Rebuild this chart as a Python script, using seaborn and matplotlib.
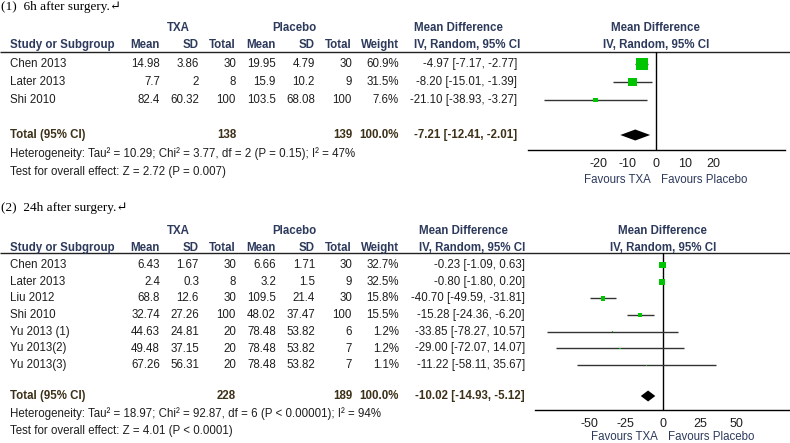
import numpy as np
import pandas as pd
import seaborn as sns
import matplotlib.pyplot as plt

# panel 1: 6h after surgery
studies1 = ["Chen 2013", "Later 2013", "Shi 2010"]
txa_mean1 = [14.98, 7.7, 82.4]
txa_sd1 = [3.86, 2, 60.32]
txa_n1 = [30, 8, 100]
pla_mean1 = [19.95, 15.9, 103.5]
pla_sd1 = [4.79, 10.2, 68.08]
pla_n1 = [30, 9, 100]
weight1 = [60.9, 31.5, 7.6]
md1 = [-4.97, -8.20, -21.10]
lo1 = [-7.17, -15.01, -38.93]
hi1 = [-2.77, -1.39, -3.27]
total1 = (-7.21, -12.41, -2.01)
ntot1 = (138, 139)
het1 = "Heterogeneity: Tau\u00b2 = 10.29; Chi\u00b2 = 3.77, df = 2 (P = 0.15); I\u00b2 = 47%"
test1 = "Test for overall effect: Z = 2.72 (P = 0.007)"
ticks1 = [-20, -10, 0, 10, 20]

# panel 2: 24h after surgery
studies2 = ["Chen 2013", "Later 2013", "Liu 2012", "Shi 2010",
            "Yu 2013 (1)", "Yu 2013(2)", "Yu 2013(3)"]
txa_mean2 = [6.43, 2.4, 68.8, 32.74, 44.63, 49.48, 67.26]
txa_sd2 = [1.67, 0.3, 12.6, 27.26, 24.81, 37.15, 56.31]
txa_n2 = [30, 8, 30, 100, 20, 20, 20]
pla_mean2 = [6.66, 3.2, 109.5, 48.02, 78.48, 78.48, 78.48]
pla_sd2 = [1.71, 1.5, 21.4, 37.47, 53.82, 53.82, 53.82]
pla_n2 = [30, 9, 30, 100, 6, 7, 7]
weight2 = [32.7, 32.5, 15.8, 15.5, 1.2, 1.2, 1.1]
md2 = [-0.23, -0.80, -40.70, -15.28, -33.85, -29.00, -11.22]
lo2 = [-1.09, -1.80, -49.59, -24.36, -78.27, -72.07, -58.11]
hi2 = [0.63, 0.20, -31.81, -6.20, 10.57, 14.07, 35.67]
total2 = (-10.02, -14.93, -5.12)
ntot2 = (228, 189)
het2 = "Heterogeneity: Tau\u00b2 = 18.97; Chi\u00b2 = 92.87, df = 6 (P < 0.00001); I\u00b2 = 94%"
test2 = "Test for overall effect: Z = 4.01 (P < 0.0001)"
ticks2 = [-50, -25, 0, 25, 50]

sns.set_style("white")
plt.rcParams["font.family"] = ["Liberation Sans", "DejaVu Sans"]
plt.rcParams["font.size"] = 8.3

W, H = 790, 443
fig = plt.figure(figsize=(W / 100, H / 100), dpi=100)
base = fig.add_axes([0, 0, 1, 1])
base.set_xlim(0, W)
base.set_ylim(H, 0)
base.axis("off")

HEAD = "#2d3a5c"
TOT = "#3d3018"
TXT = "#1e1e1e"
GREEN = "#00c400"

# right edges of the table columns
col_x = [160, 199, 236, 276, 315, 352, 399]


def panel(top, title, studies, cols, weight, md, lo, hi, total, ntot, het, test,
          ticks, val_x, hdr_x, ax_box, xlim, dy, box_max, fav_dy):
    t_y, grp_y, hdr_y, line_y, row0, tot_y, ax_y = top
    base.text(1, t_y, title, family=["Liberation Serif", "DejaVu Serif"],
              fontsize=9.5, va="center", color="black")
    base.text(178, grp_y, "TXA", weight="bold", color=HEAD, ha="center", va="center")
    base.text(294, grp_y, "Placebo", weight="bold", color=HEAD, ha="center", va="center")
    heads = ["Mean", "SD", "Total", "Mean", "SD", "Total", "Weight"]
    base.text(10, hdr_y, "Study or Subgroup", weight="bold", color=HEAD, va="center")
    for x, h in zip(col_x, heads):
        base.text(x, hdr_y, h, weight="bold", color=HEAD, ha="right", va="center")
    base.text(hdr_x, grp_y, "Mean Difference", weight="bold", color=HEAD, va="center")
    base.text(hdr_x, hdr_y, "IV, Random, 95% CI", weight="bold", color=HEAD, va="center")
    base.hlines(line_y, 0, W, color="#222222", lw=1)

    for i, s in enumerate(studies):
        y = row0 + i * dy
        base.text(10, y, s, color=TXT, va="center")
        for x, c in zip(col_x[:6], cols):
            base.text(x, y, f"{c[i]:g}", color=TXT, ha="right", va="center")
        base.text(col_x[6], y, f"{weight[i]:.1f}%", color=TXT, ha="right", va="center")
        base.text(val_x, y, f"{md[i]:.2f} [{lo[i]:.2f}, {hi[i]:.2f}]",
                  color=TXT, ha="right", va="center")

    base.text(10, tot_y, "Total (95% CI)", weight="bold", color=TOT, va="center")
    base.text(col_x[2], tot_y, str(ntot[0]), weight="bold", color=TOT, ha="right", va="center")
    base.text(col_x[5], tot_y, str(ntot[1]), weight="bold", color=TOT, ha="right", va="center")
    base.text(col_x[6], tot_y, "100.0%", weight="bold", color=TOT, ha="right", va="center")
    base.text(val_x, tot_y, f"{total[0]:.2f} [{total[1]:.2f}, {total[2]:.2f}]",
              weight="bold", color=TOT, ha="right", va="center")
    base.text(10, tot_y + (ax_y - tot_y + 4), het, color=TXT, va="center")
    base.text(10, tot_y + 2 * (ax_y - tot_y + 4) - 1, test, color=TXT, va="center")

    # forest plot
    x0, x1 = ax_box
    ax = fig.add_axes([x0 / W, 1 - ax_y / H, (x1 - x0) / W, (ax_y - line_y) / H])
    ax.set_ylim(ax_y, line_y)
    ax.set_xlim(*xlim)
    ax.patch.set_alpha(0)
    rows = [row0 + i * dy for i in range(len(studies))]
    df = pd.DataFrame({"md": md, "y": rows, "w": weight})
    ax.hlines(rows, lo, hi, color="#333333", lw=1, zorder=1)
    sns.scatterplot(data=df, x="md", y="y", size="w", sizes=(0, box_max),
                    size_norm=(0, 100), marker="s", color=GREEN, linewidth=0,
                    legend=False, ax=ax, zorder=2)
    ax.axvline(0, color="black", lw=1, zorder=0)
    h = 5.5
    ax.fill([total[1], total[0], total[2], total[0]],
            [tot_y, tot_y - h, tot_y, tot_y + h], color="black", lw=0, zorder=3)
    for sp in ["top", "left", "right"]:
        ax.spines[sp].set_visible(False)
    ax.spines["bottom"].set_color("black")
    ax.spines["bottom"].set_linewidth(1)
    ax.set_yticks([])
    ax.set_xticks(ticks)
    ax.set_xticklabels([str(t) for t in ticks])
    ax.tick_params(axis="x", direction="in", length=3, width=1, pad=6,
                   labelsize=9, labelcolor=TXT, color="black")
    ax.set_xlabel("")
    ax.set_ylabel("")
    zx = x0 + (0 - xlim[0]) / (xlim[1] - xlim[0]) * (x1 - x0)
    base.text(zx, grp_y, "Mean Difference", weight="bold", color=HEAD, ha="center", va="center")
    base.text(zx, hdr_y, "IV, Random, 95% CI", weight="bold", color=HEAD, ha="center", va="center")
    base.text(zx - 5, ax_y + fav_dy, "Favours TXA", color=HEAD, ha="right", va="center")
    base.text(zx + 5, ax_y + fav_dy, "Favours Placebo", color=HEAD, ha="left", va="center")


panel((7, 28, 45, 52, 64, 135, 150), "(1)  6h after surgery.\u21b5",
      studies1, [txa_mean1, txa_sd1, txa_n1, pla_mean1, pla_sd1, pla_n1],
      weight1, md1, lo1, hi1, total1, ntot1, het1, test1, ticks1,
      517, 414, (528, 785), (-44.6, 45), 18, 123, 30)

panel((208, 231, 248, 253, 265, 396, 410), "(2)  24h after surgery.\u21b5",
      studies2, [txa_mean2, txa_sd2, txa_n2, pla_mean2, pla_sd2, pla_n2],
      weight2, md2, lo2, hi2, total2, ntot2, het2, test2, ticks2,
      525, 419, (535, 790), (-86.5, 86), 16.7, 63, 26.5)

fig.savefig("out.png", dpi=100)
